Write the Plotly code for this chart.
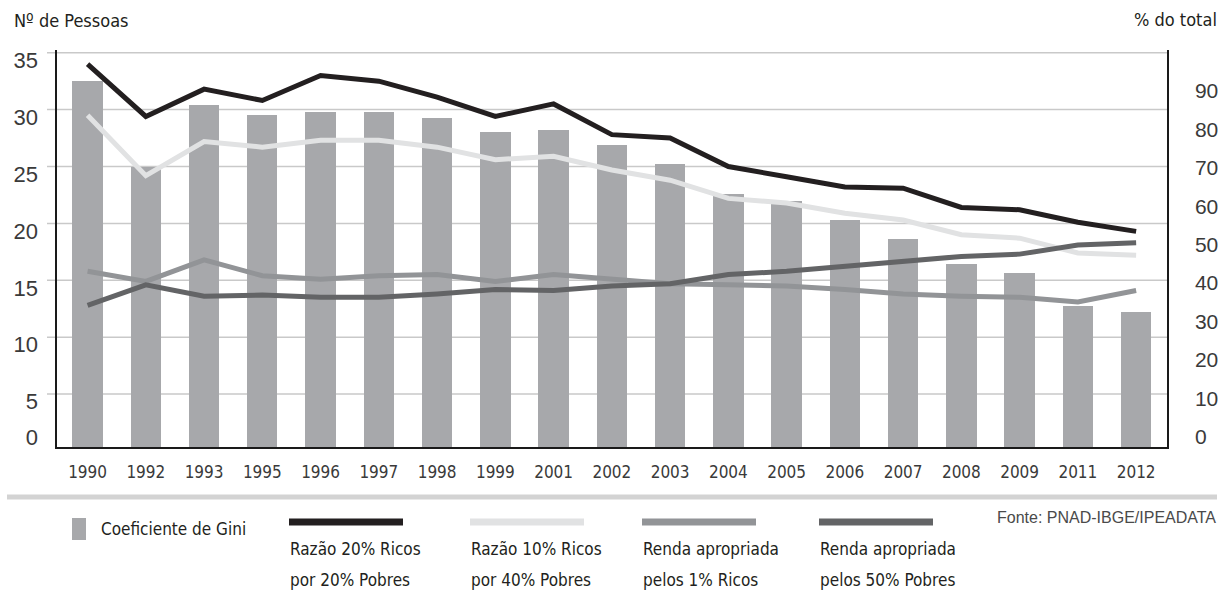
import plotly.graph_objects as go

# ---------------- data ----------------
years = ['1990', '1992', '1993', '1995', '1996', '1997', '1998', '1999', '2001', '2002',
         '2003', '2004', '2005', '2006', '2007', '2008', '2009', '2011', '2012']
gini = [32.5, 25.0, 30.4, 29.5, 29.8, 29.8, 29.3, 28.0, 28.2, 26.9,
        25.2, 22.6, 22.0, 20.3, 18.6, 16.4, 15.6, 12.7, 12.2]
razao_20_20 = [34.0, 29.4, 31.8, 30.8, 33.0, 32.5, 31.1, 29.4, 30.5, 27.8,
               27.5, 25.0, 24.1, 23.2, 23.1, 21.4, 21.2, 20.1, 19.3]
razao_10_40 = [29.5, 24.2, 27.2, 26.7, 27.3, 27.3, 26.7, 25.6, 25.9, 24.7,
               23.8, 22.2, 21.8, 20.9, 20.3, 19.0, 18.7, 17.4, 17.2]
renda_1_ricos = [15.8, 14.9, 16.8, 15.4, 15.1, 15.4, 15.5, 14.9, 15.5, 15.1,
                 14.7, 14.6, 14.5, 14.2, 13.8, 13.6, 13.5, 13.1, 14.1]
renda_50_pobres = [12.8, 14.6, 13.6, 13.7, 13.5, 13.5, 13.8, 14.2, 14.1, 14.5,
                   14.7, 15.5, 15.8, 16.2, 16.6, 17.1, 17.3, 18.1, 18.3]

left_ticks = [0, 5, 10, 15, 20, 25, 30, 35]
right_ticks = [0, 10, 20, 30, 40, 50, 60, 70, 80, 90]

legend_bar = 'Coeficiente de Gini'
legend_lines = [
    ('Razão 20% Ricos', 'por 20% Pobres'),
    ('Razão 10% Ricos', 'por 40% Pobres'),
    ('Renda apropriada', 'pelos 1% Ricos'),
    ('Renda apropriada', 'pelos 50% Pobres'),
]
title_left = 'Nº de Pessoas'
title_right = '% do total'
source = 'Fonte: PNAD-IBGE/IPEADATA'

# ---------------- styles ----------------
W, H = 1229, 614
L, R, T, B = 57, 62, 50, 167
PW, PH = W - L - R, H - T - B

BAR_C = '#a7a8ab'
C_BLACK = '#231f20'
C_LIGHT = '#e1e2e3'
C_MID = '#929497'
C_DARK = '#636466'
GRID_C = '#c9c9c9'
TXT_C = '#3a3a3a'
NARROW = 'DejaVu Sans Condensed, Liberation Sans Narrow, Roboto, sans-serif'
SANS = 'Liberation Sans, Arial, sans-serif'

Y_RANGE = [0.35, 35.24]
Y2_RANGE = [-2.68, 100.7]
X_RANGE = [-0.525, 18.53]


def px(x, y):
    """pixel -> paper coords"""
    return (x - L) / PW, (H - B - y) / PH


fig = go.Figure()

fig.add_trace(go.Bar(x=years, y=gini, marker=dict(color=BAR_C, line=dict(width=0)),
                     width=0.52, name=legend_bar, showlegend=False))

for vals, col in [(razao_10_40, C_LIGHT), (renda_1_ricos, C_MID),
                  (renda_50_pobres, C_DARK), (razao_20_20, C_BLACK)]:
    fig.add_trace(go.Scatter(x=years, y=vals, mode='lines',
                             line=dict(color=col, width=5),
                             showlegend=False, hoverinfo='skip'))

# gridlines (extend slightly left of the axis line)
for v in left_ticks[1:]:
    fig.add_shape(type='line', xref='paper', yref='y', x0=-10 / PW, x1=1, y0=v, y1=v,
                  line=dict(color=GRID_C, width=1.5), layer='below')

# left tick label positions (labels sit a little below the gridlines)
PX_PER_UNIT = PH / (Y_RANGE[1] - Y_RANGE[0])
lab_pos = [v - 7.5 / PX_PER_UNIT if v > 0 else Y_RANGE[0] + 10 / PX_PER_UNIT for v in left_ticks]

fig.update_layout(
    width=W, height=H,
    margin=dict(l=L, r=R, t=T, b=B, pad=0),
    paper_bgcolor='white', plot_bgcolor='white',
    showlegend=False,
    bargap=0,
    xaxis=dict(type='category', range=X_RANGE, showgrid=False, zeroline=False,
               showline=True, linecolor='#1a1a1a', linewidth=1.5, ticks='',
               tickfont=dict(family=NARROW, size=17, color=TXT_C),
               ticklabelstandoff=9),
    yaxis=dict(range=Y_RANGE, showgrid=False, zeroline=False, showticklabels=False,
               showline=True, linecolor='#1a1a1a', linewidth=1.5, ticks=''),
    yaxis2=dict(range=Y2_RANGE, overlaying='y', side='right', anchor='x',
                showgrid=False, zeroline=False, showline=True, linecolor='#1a1a1a',
                linewidth=1.5, ticks='', tickvals=right_ticks,
                ticktext=[str(v) for v in right_ticks],
                tickfont=dict(family=SANS, size=21, color=TXT_C),
                ticklabelstandoff=22),
    yaxis3=dict(range=Y_RANGE, overlaying='y', side='left', anchor='x',
                showgrid=False, zeroline=False, showline=False, ticks='',
                tickvals=lab_pos, ticktext=[str(v) for v in left_ticks],
                tickfont=dict(family=SANS, size=22, color=TXT_C),
                ticklabelstandoff=18),
)

# invisible helper traces so the overlay axes are drawn
fig.add_trace(go.Scatter(x=[years[0]], y=[None], yaxis='y2', showlegend=False, hoverinfo='skip'))
fig.add_trace(go.Scatter(x=[years[0]], y=[None], yaxis='y3', showlegend=False, hoverinfo='skip'))

# titles
x0, y0 = px(12, 21)
fig.add_annotation(text=title_left, xref='paper', yref='paper', x=x0, y=y0,
                   xanchor='left', yanchor='middle', showarrow=False,
                   font=dict(family=NARROW, size=18, color='#231f20'))
x0, y0 = px(1219, 19)
fig.add_annotation(text=title_right, xref='paper', yref='paper', x=x0, y=y0,
                   xanchor='right', yanchor='middle', showarrow=False,
                   font=dict(family=NARROW, size=18, color='#231f20'))

# separator
xa, ya = px(7, 497)
xb, _ = px(1217, 497)
fig.add_shape(type='line', xref='paper', yref='paper', x0=xa, x1=xb, y0=ya, y1=ya,
              line=dict(color='#d3d3d3', width=5))

# legend: gini box
xa, ya = px(72, 518)
xb, yb = px(86, 540)
fig.add_shape(type='rect', xref='paper', yref='paper', x0=xa, x1=xb, y0=yb, y1=ya,
              fillcolor=BAR_C, line=dict(width=0))
x0, y0 = px(99, 529)
fig.add_annotation(text=legend_bar, xref='paper', yref='paper', x=x0, y=y0,
                   xanchor='left', yanchor='middle', showarrow=False,
                   font=dict(family=NARROW, size=17, color='#231f20'))

# legend: lines
leg_x = [289, 470, 642, 819]
for (l1, l2), col, lx in zip(legend_lines, [C_BLACK, C_LIGHT, C_MID, C_DARK], leg_x):
    xa, ya = px(lx, 522)
    xb, _ = px(lx + 114, 522)
    fig.add_shape(type='line', xref='paper', yref='paper', x0=xa, x1=xb, y0=ya, y1=ya,
                  line=dict(color=col, width=7))
    for txt, yy in [(l1, 549), (l2, 580)]:
        x0, y0 = px(lx - 1, yy)
        fig.add_annotation(text=txt, xref='paper', yref='paper', x=x0, y=y0,
                           xanchor='left', yanchor='middle', showarrow=False,
                           font=dict(family=NARROW, size=17, color='#231f20'))

# source
x0, y0 = px(1218, 517)
fig.add_annotation(text=source, xref='paper', yref='paper', x=x0, y=y0,
                   xanchor='right', yanchor='middle', showarrow=False,
                   font=dict(family=SANS, size=16, color='#4a4a4a'))

fig.write_html('out.html')
